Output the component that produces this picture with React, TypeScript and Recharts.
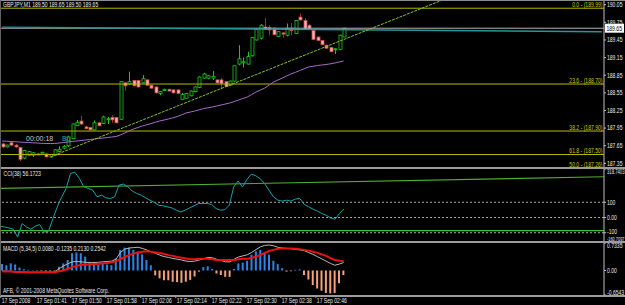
import React from 'react';
import { ComposedChart, Bar, Line, XAxis, YAxis, ReferenceLine, Cell } from 'recharts';

const FONT = '"Liberation Sans", Arial, sans-serif';

const open = [187.68,187.63,187.70,187.66,187.62,187.44,187.49,187.49,187.51,187.53,
187.51,187.46,187.49,187.55,187.61,187.65,187.77,187.99,188.07,187.97,
187.96,187.92,188.04,188.03,188.10,188.13,188.13,188.10,188.72,188.70,
188.76,188.76,188.72,188.77,188.68,188.65,188.54,188.59,188.61,188.60,
188.60,188.44,188.46,188.50,188.57,188.64,188.80,188.80,188.80,188.77,
188.77,188.74,188.68,188.75,189.04,189.06,189.04,189.18,189.45,189.48,
189.67,189.66,189.65,189.51,189.57,189.53,189.65,189.56,189.84,189.78,
189.70,189.61,189.50,189.44,189.36,189.32,189.29,189.29,189.50];
const high = [187.70,187.67,187.71,187.68,187.63,187.58,187.56,187.54,187.52,187.54,
187.52,187.51,187.59,187.64,187.66,187.82,188.03,188.09,188.16,187.99,
187.97,188.08,188.05,188.16,188.14,188.17,188.14,188.75,188.73,188.91,
188.77,188.77,188.85,188.78,188.69,188.66,188.58,188.62,188.62,188.61,
188.61,188.55,188.55,188.59,188.66,188.83,188.89,188.85,188.92,188.78,
188.80,188.75,188.76,189.02,189.36,189.15,189.25,189.50,189.64,189.72,
189.82,189.70,189.66,189.60,189.58,189.73,189.74,189.79,189.90,189.82,
189.72,189.63,189.51,189.45,189.37,189.33,189.31,189.54,189.65];
const low = [187.61,187.62,187.65,187.61,187.39,187.42,187.48,187.46,187.50,187.53,
187.45,187.45,187.48,187.54,187.59,187.63,187.76,187.99,188.00,187.93,
187.91,187.91,187.98,188.02,188.02,188.04,188.03,188.09,188.59,188.68,
188.66,188.64,188.71,188.67,188.62,188.54,188.51,188.58,188.58,188.54,
188.53,188.43,188.45,188.49,188.56,188.63,188.79,188.78,188.77,188.72,
188.61,188.65,188.67,188.74,189.02,188.98,189.03,189.17,189.44,189.46,
189.62,189.53,189.53,189.50,189.48,189.51,189.53,189.55,189.78,189.62,
189.62,189.45,189.43,189.36,189.30,189.24,189.21,189.28,189.50];
const close = [187.63,187.66,187.66,187.63,187.42,187.57,187.55,187.53,187.51,187.54,
187.46,187.50,187.58,187.59,187.64,187.80,188.02,188.05,188.02,187.94,
187.92,188.04,187.99,188.14,188.11,188.09,188.04,188.74,188.67,188.74,
188.67,188.65,188.79,188.68,188.63,188.55,188.57,188.61,188.58,188.55,
188.54,188.52,188.54,188.58,188.65,188.82,188.87,188.84,188.83,188.72,
188.71,188.66,188.75,189.01,189.13,189.08,189.17,189.49,189.63,189.70,
189.63,189.62,189.54,189.59,189.55,189.65,189.61,189.78,189.79,189.63,
189.63,189.46,189.44,189.37,189.31,189.25,189.30,189.53,189.65];
const ma = [187.730,187.727,187.722,187.717,187.713,187.708,187.705,187.700,187.696,187.691,
187.688,187.688,187.688,187.696,187.705,187.713,187.722,187.730,187.739,187.747,
187.756,187.764,187.773,187.781,187.790,187.798,187.807,187.832,187.866,187.900,
187.934,187.960,187.986,188.006,188.028,188.050,188.071,188.088,188.105,188.125,
188.147,188.176,188.207,188.224,188.241,188.261,188.283,188.295,188.309,188.326,
188.343,188.360,188.377,188.402,188.428,188.454,188.479,188.522,188.564,188.598,
188.632,188.683,188.734,188.768,188.802,188.837,188.871,188.899,188.930,188.959,
188.990,189.002,189.015,189.024,189.032,189.044,189.058,189.075,189.092];
const cci = [-57,-62,-68,-77,-128,-40,-62,-77,-57,-46,
-95,-90,-7,70,136,191,290,297,257,202,
191,180,136,147,130,125,136,213,220,202,
174,158,147,130,114,99,81,77,70,63,
48,37,48,63,77,92,92,92,86,59,
48,52,81,200,240,200,250,285,275,255,
224,180,136,114,108,114,108,121,125,86,
70,55,42,26,15,-3,-11,26,56.1723];
const macdHist = [0.17,0.14,0.19,0.16,0.08,0.035,0.02,0.01,-0.01,-0.02,
-0.03,-0.03,-0.02,0.10,0.19,0.28,0.46,0.48,0.46,0.37,
0.23,0.23,0.16,0.19,0.16,0.14,0.32,0.55,0.61,0.61,
0.55,0.50,0.43,0.28,0.14,-0.13,-0.21,-0.26,-0.26,-0.30,
-0.31,-0.33,-0.30,-0.25,-0.16,-0.03,0.09,0.11,0.04,-0.08,
-0.12,-0.17,-0.17,0.04,0.19,0.21,0.26,0.42,0.51,0.55,
0.48,0.42,0.26,0.17,0.06,-0.03,-0.02,0.02,0.03,-0.12,
-0.24,-0.39,-0.48,-0.54,-0.60,-0.61,-0.60,-0.34,-0.1235];
const macdMain = [-0.01,-0.02,-0.02,-0.03,-0.04,-0.04,-0.05,-0.05,-0.05,-0.05,
-0.05,-0.05,-0.04,0.05,0.12,0.18,0.23,0.24,0.23,0.22,
0.21,0.21,0.22,0.23,0.24,0.25,0.30,0.48,0.57,0.60,
0.61,0.62,0.59,0.55,0.50,0.46,0.41,0.37,0.35,0.32,
0.30,0.28,0.25,0.24,0.25,0.28,0.31,0.35,0.34,0.30,
0.27,0.23,0.23,0.30,0.36,0.39,0.42,0.48,0.56,0.63,
0.67,0.68,0.66,0.62,0.60,0.59,0.58,0.56,0.55,0.53,
0.48,0.43,0.37,0.31,0.25,0.19,0.14,0.17,0.213];
const macdSignal = [-0.03,-0.03,-0.03,-0.04,-0.04,-0.04,-0.05,-0.05,-0.05,-0.05,
-0.05,-0.05,-0.05,-0.02,0.00,0.05,0.09,0.12,0.15,0.16,
0.16,0.17,0.18,0.19,0.20,0.22,0.25,0.30,0.36,0.41,
0.45,0.48,0.50,0.51,0.50,0.48,0.47,0.44,0.41,0.39,
0.36,0.34,0.32,0.30,0.30,0.31,0.31,0.31,0.30,0.28,
0.28,0.28,0.28,0.28,0.30,0.31,0.31,0.34,0.37,0.41,
0.47,0.52,0.55,0.58,0.59,0.59,0.59,0.58,0.57,0.55,
0.53,0.50,0.47,0.43,0.39,0.33,0.28,0.26,0.2542];

const SLOTS = 138;
const timeTickIdx = [0, 8, 16, 24, 32, 40, 48, 56, 64, 72];
const timeTickLabels = ['17 Sep 2008','17 Sep 01:41','17 Sep 01:50','17 Sep 01:58','17 Sep 02:06','17 Sep 02:14','17 Sep 02:22','17 Sep 02:30','17 Sep 02:38','17 Sep 02:46'];
const priceTicks = [190.05, 189.75, 189.45, 189.15, 188.85, 188.55, 188.25, 187.95, 187.65, 187.35];
const priceDomain = [187.254, 190.113];
const bidPrice = 189.65;
const fibLevels = [189.99, 188.70, 187.90, 187.50, 187.26];
const fibLabels = ['0.0 - (189.99)', '23.6 - (188.70)', '38.2 - (187.90)', '61.8 - (187.50)', '50.0 - (187.26)'];
const greenTrend = [[11, 187.46], [137, 191.215]];
const tealTrend = [[0, 189.67], [137, 189.59]];
const cciTicks = [318.7403, 100, 0, -100, -160.7097];
const cciTickLabels = ['318.7403', '100', '0.00', '-100', '-160.7097'];
const cciLevels = [100, 0, -100];
const cciTrend = [[0, 191], [137, 268]];
const cciGreenLevel = -86;
const macdTicks = [0.7335, 0, -0.6543];
const macdTickLabels = ['0.7335', '0.00', '-0.6543'];

const pick = (pts: number[][], k: number) => {
  const f = pts.find((p) => p[0] === k);
  return f ? f[1] : null;
};

const data = Array.from({ length: SLOTS }, (_, k) => {
  const has = k < open.length;
  return {
    k,
    o: has ? open[k] : null,
    h: has ? high[k] : null,
    l: has ? low[k] : null,
    c: has ? close[k] : null,
    range: has ? [low[k], high[k]] : null,
    ma: has ? ma[k] : null,
    cci: has ? cci[k] : null,
    hist: has ? macdHist[k] : null,
    main: has ? macdMain[k] : null,
    sig: has ? macdSignal[k] : null,
    gTrend: pick(greenTrend, k),
    tTrend: pick(tealTrend, k),
    cTrend: pick(cciTrend, k),
  };
});

const SmallText = ({ x, y, children, fill = '#e6e6e6', anchor = 'start', size = 6.5, sx = 0.78 }: any) => (
  <text transform={`translate(${x},${y}) scale(${sx},1)`} fontSize={size} fontFamily={FONT} fill={fill} textAnchor={anchor}>
    {children}
  </text>
);

const emWidth = (s: string) =>
  s.split('').reduce((a, ch) => a + (ch === '.' ? 0.278 : ch === '-' ? 0.333 : 0.556), 0);

const BULL = '#1ec81e';
const BEAR_FILL = '#f2b4b4';
const BEAR_EDGE = '#d04848';
const BEAR_WICK = '#b02828';

const Candle = (props: any) => {
  const { x, y, width, height, payload } = props;
  if (!payload || payload.o == null || !isFinite(height)) return null;
  const { o, c, h, l } = payload;
  const ppu = height / (h - l);
  const cx = Math.round(x + width / 2) + 0.5;
  const top = y + (h - Math.max(o, c)) * ppu;
  const bh = Math.max(1, Math.abs(o - c) * ppu);
  const up = c >= o;
  return (
    <g>
      <line x1={cx} x2={cx} y1={y} y2={y + height} stroke={up ? BULL : BEAR_WICK} strokeWidth={1} />
      <rect x={cx - 1.5} y={top} width={3} height={bh} fill={up ? '#000' : BEAR_FILL} stroke={up ? BULL : BEAR_EDGE} strokeWidth={0.8} />
    </g>
  );
};

const FibLabel = (props: any) => {
  const { viewBox, text } = props;
  if (!viewBox) return null;
  return <SmallText x={viewBox.x + viewBox.width - 1.5} y={viewBox.y - 1.2} anchor="end" fill="#c8c800">{text}</SmallText>;
};

const BidLabel = (props: any) => {
  const { viewBox } = props;
  if (!viewBox) return null;
  const x = viewBox.x + viewBox.width + 1;
  return (
    <g>
      <rect x={x} y={viewBox.y - 4.5} width={19} height={9} fill="#ffffff" />
      <SmallText x={x + 1.5} y={viewBox.y + 2.3} fill="#000">{bidPrice.toFixed(2)}</SmallText>
    </g>
  );
};

// shifts/sizes: per-label vertical nudge and font size (axis label placement only)
const makeYTick = (labels: string[] | null, values: number[] | null, shifts: number[] = [], sizes: number[] = []) => (props: any) => {
  const { x, y, payload } = props;
  let label = payload.value.toFixed ? payload.value.toFixed(2) : String(payload.value);
  let dy = 2.3;
  let size = 6.5;
  if (labels && values) {
    const i = values.indexOf(payload.value);
    if (i >= 0) {
      label = labels[i];
      dy += shifts[i] || 0;
      size = sizes[i] || 6.5;
    }
  }
  const w = emWidth(label) * size;
  const sx = Math.min(0.78, 17.5 / w);
  return <SmallText x={x} y={y + dy} sx={sx} size={size}>{label}</SmallText>;
};

const TimeTick = (props: any) => {
  const { x, y, payload } = props;
  const i = timeTickIdx.indexOf(payload.value);
  if (i < 0) return <g />;
  return (
    <g>
      <line x1={x - 1.5} x2={x - 1.5} y1={y + 1} y2={y + 3} stroke="#a0a0a0" />
      <SmallText x={x - 0.5} y={y + 8}>{timeTickLabels[i]}</SmallText>
    </g>
  );
};

const AXIS = '#c0c0c0';

export default function App() {
  const sep = (top: number, h = 2, color = '#9c9c9c') => (
    <div style={{ position: 'absolute', left: 0, top, width: 625, height: h, background: color }} />
  );
  return (
    <div style={{ position: 'absolute', left: 0, top: 0, width: 625, height: 305, background: '#000', overflow: 'hidden' }}>
      <div style={{ position: 'absolute', left: 0, top: 0 }}>
        <ComposedChart width={625} height={169} data={data} margin={{ top: 1, right: 0, bottom: 0, left: 0 }}>
          <XAxis dataKey="k" type="category" hide />
          <YAxis orientation="right" width={21} domain={priceDomain} allowDataOverflow type="number"
            ticks={priceTicks} interval={0} tickSize={2} tickMargin={1}
            axisLine={{ stroke: AXIS }} tickLine={{ stroke: AXIS }} tick={makeYTick(null, null)} />
          {fibLevels.map((v, i) => (
            <ReferenceLine key={'f' + i} y={v} stroke="#b8b800" strokeWidth={1} label={<FibLabel text={fibLabels[i]} />} />
          ))}
          <ReferenceLine y={bidPrice} stroke="#b4b4b4" strokeWidth={1} label={<BidLabel />} />
          <Line dataKey="tTrend" stroke="#1f9a9a" strokeWidth={1.3} dot={false} connectNulls isAnimationActive={false} />
          <Line dataKey="ma" stroke="#a46cc8" strokeWidth={1} dot={false} isAnimationActive={false} />
          <Line dataKey="gTrend" stroke="#86c22a" strokeWidth={1} strokeDasharray="3 1" dot={false} connectNulls isAnimationActive={false} />
          <Bar dataKey="range" barSize={3} shape={<Candle />} isAnimationActive={false} />
        </ComposedChart>
      </div>

      <div style={{ position: 'absolute', left: 0, top: 169 }}>
        <ComposedChart width={625} height={73} data={data} margin={{ top: 0, right: 0, bottom: 0, left: 0 }}>
          <XAxis dataKey="k" type="category" hide />
          <YAxis orientation="right" width={21} domain={[cciTicks[4], cciTicks[0]]} allowDataOverflow type="number"
            ticks={cciTicks} interval={0} tickSize={2} tickMargin={1}
            axisLine={{ stroke: AXIS }} tickLine={{ stroke: AXIS }}
            tick={makeYTick(cciTickLabels, cciTicks, [2.7, 0, 0, -1.2, -3.4], [6.5, 6.5, 6.5, 6.5, 5.8])} />
          {cciLevels.map((v) => (
            <ReferenceLine key={'c' + v} y={v} stroke="#a8a8a8" strokeDasharray="2 2" strokeWidth={1} />
          ))}
          <ReferenceLine y={cciGreenLevel} stroke="#3cc03c" strokeWidth={1.2} />
          <Line dataKey="cTrend" stroke="#4cb030" strokeWidth={1.2} dot={false} connectNulls isAnimationActive={false} />
          <Line dataKey="cci" stroke="#1aa0a8" strokeWidth={1} dot={false} isAnimationActive={false} />
        </ComposedChart>
      </div>

      <div style={{ position: 'absolute', left: 0, top: 243 }}>
        <ComposedChart width={625} height={62} data={data} margin={{ top: 0, right: 0, bottom: 0, left: 0 }}>
          <XAxis dataKey="k" type="category" height={10} interval={0} axisLine={false} tickLine={false}
            tickSize={0} tickMargin={0} tick={<TimeTick />} />
          <YAxis orientation="right" width={21} domain={[macdTicks[2], macdTicks[0]]} allowDataOverflow type="number"
            ticks={macdTicks} interval={0} tickSize={2} tickMargin={1}
            axisLine={{ stroke: AXIS }} tickLine={{ stroke: AXIS }} tick={makeYTick(macdTickLabels, macdTicks, [2.7, 0, -2.7])} />
          <Bar dataKey="hist" barSize={2} isAnimationActive={false}>
            {data.map((d) => (
              <Cell key={d.k} fill={d.hist != null && d.hist >= 0 ? '#2a86e6' : '#f4a07c'} />
            ))}
          </Bar>
          <Line dataKey="main" stroke="#b8b8b8" strokeWidth={1} dot={false} isAnimationActive={false} />
          <Line dataKey="sig" stroke="#ee1010" strokeWidth={2} dot={false} isAnimationActive={false} />
        </ComposedChart>
      </div>

      {sep(0, 1, '#8c8c8c')}
      {sep(167, 2)}
      {sep(241, 2)}
      {sep(295, 2)}
      <div style={{ position: 'absolute', left: 0, top: 0, width: 1, height: 296, background: '#606060' }} />

      <svg width={625} height={305} style={{ position: 'absolute', left: 0, top: 0, pointerEvents: 'none' }}>
        <SmallText x={3} y={7.4}>GBPJPY,M1 189.50 189.65 189.50 189.65</SmallText>
        <text x={26} y={140.5} fontSize={7} fontFamily={FONT} fill="#c8c8c8">00:00:18</text>
        <text x={62} y={140.5} fontSize={7} fontFamily={FONT} fill="#20a8c0">Bu</text>
        <SmallText x={3.5} y={176.3}>CCI(38) 56.1723</SmallText>
        <SmallText x={3} y={251.2}>{'MACD  (5,34,5) 0.0080 -0.1235 0.2130 0.2542'}</SmallText>
        <SmallText x={3} y={293.2}>AFB, © 2001-2008 MetaQuotes Software Corp.</SmallText>
      </svg>
    </div>
  );
}
